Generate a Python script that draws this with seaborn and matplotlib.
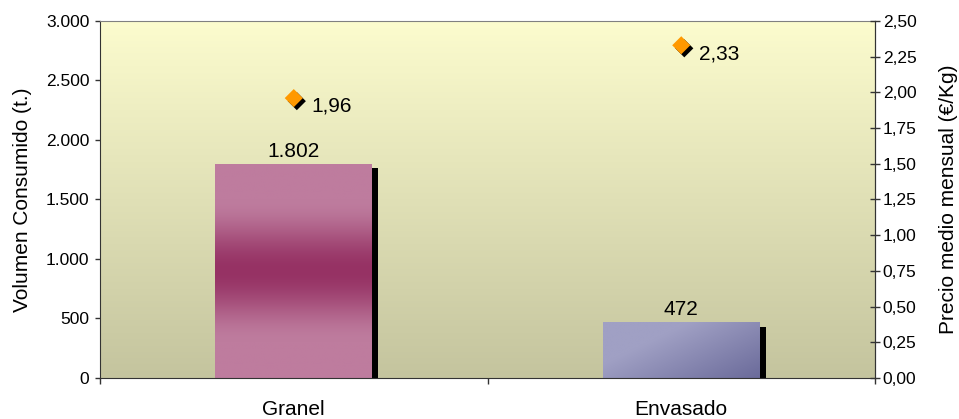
import matplotlib
matplotlib.use("Agg")
import matplotlib.pyplot as plt
import matplotlib.patheffects as pe
from matplotlib.ticker import FuncFormatter
import numpy as np
import pandas as pd
import seaborn as sns

# datos
categorias = ["Granel", "Envasado"]
volumen = [1802, 472]
precio = [1.96, 2.33]
vol_ticks = [0, 500, 1000, 1500, 2000, 2500, 3000]
precio_ticks = [0.0, 0.25, 0.5, 0.75, 1.0, 1.25, 1.5, 1.75, 2.0, 2.25, 2.5]

sns.set_style("ticks")
plt.rcParams["font.family"] = ["Liberation Sans", "DejaVu Sans"]
plt.rcParams.update({"text.color": "black", "axes.labelcolor": "black",
                     "xtick.color": "black", "ytick.color": "black"})

df = pd.DataFrame({"categoria": categorias, "pos": np.arange(len(categorias)),
                   "volumen": volumen, "precio": precio})

fig = plt.figure(figsize=(9.59, 4.19), dpi=100)
ax = fig.add_axes([0.1043, 0.0979, 0.8081, 0.852])

# fondo degradado amarillo
t = np.linspace(0, 1, 256)[:, None, None]
arriba = np.array([252, 252, 206]) / 255
abajo = np.array([196, 196, 158]) / 255
ax.imshow(arriba + (abajo - arriba) * t, extent=(0, 1, 0, 1), transform=ax.transAxes,
          aspect="auto", zorder=0, origin="upper")

sns.barplot(data=df, x="categoria", y="volumen", ax=ax, width=0.405,
            color="#bb7a9e", saturation=1, zorder=2, edgecolor="none", linewidth=0)

sombra = [pe.SimplePatchShadow(offset=(4.5, -3.5), shadow_rgbFace="black", alpha=1), pe.Normal()]


def grad_granel():
    y = np.linspace(0, 1, 200)[:, None, None]
    f = np.clip(1 - np.abs(2 * y - 1) * 1.5, 0, 1)
    f = f * f * (3 - 2 * f)
    claro = np.array([190, 124, 158]) / 255
    oscuro = np.array([150, 50, 100]) / 255
    return np.repeat(claro + (oscuro - claro) * f, 2, axis=1)


def grad_envasado():
    yy, xx = np.mgrid[0:1:100j, 0:1:200j]
    f = np.clip(0.8 * xx + 0.6 * yy - 0.45, 0, 1)
    claro = np.array([160, 160, 196]) / 255
    oscuro = np.array([104, 104, 152]) / 255
    return claro + (oscuro - claro) * f[..., None]


gradientes = [grad_granel(), grad_envasado()]
for p, g in zip(ax.patches, gradientes):
    p.set_path_effects(sombra)
    x0, w, h = p.get_x(), p.get_width(), p.get_height()
    im = ax.imshow(g, extent=(x0, x0 + w, 0, h), aspect="auto", zorder=2.5, origin="upper")
    im.set_clip_path(p)

ax.bar_label(ax.containers[0], labels=[f"{v:,}".replace(",", ".") for v in volumen],
             padding=2, fontsize=15)

ax.set_xlim(-0.5, 1.5)
ax.set_ylim(0, 3000)
ax.set_yticks(vol_ticks)
ax.yaxis.set_major_formatter(FuncFormatter(lambda v, _: f"{int(v):,}".replace(",", ".")))
ax.tick_params(axis="y", direction="out", length=3.6, width=1, labelsize=12.5, pad=4, color="#333333")
ax.set_xticks([-0.5, 0.5, 1.5])
ax.set_xticklabels(["", "", ""])
ax.set_xticks([0, 1], minor=True)
ax.set_xticklabels(categorias, minor=True, fontsize=15)
ax.tick_params(axis="x", which="major", direction="out", length=4.5, width=1, color="#333333")
ax.tick_params(axis="x", which="minor", length=0, pad=16)
ax.set_xlabel("")
ax.set_ylabel("Volumen Consumido (t.)", fontsize=15, labelpad=10)
for lado in ["left", "bottom", "right"]:
    ax.spines[lado].set_color("#333333")
ax.spines["top"].set_color("#808080")

# eje derecho: precio medio
ax2 = ax.twinx()
sns.scatterplot(data=df, x="pos", y="precio", ax=ax2, marker="D", s=85,
                color="#ff9900", edgecolor="none", zorder=3, legend=False)
ax2.collections[0].set_path_effects([pe.SimplePatchShadow(offset=(2.2, -2.2), shadow_rgbFace="black", alpha=1),
                                     pe.Normal()])
for xi, yi in zip(df["pos"], precio):
    ax2.annotate(f"{yi:.2f}".replace(".", ","), (xi, yi), xytext=(13, -6),
                 textcoords="offset points", ha="left", va="center", fontsize=15)
ax2.set_xlim(-0.5, 1.5)
ax2.set_ylim(0, 2.5)
ax2.set_yticks(precio_ticks)
ax2.yaxis.set_major_formatter(FuncFormatter(lambda v, _: f"{v:.2f}".replace(".", ",")))
ax2.tick_params(axis="y", direction="inout", length=7, width=1, labelsize=12.5, pad=2, color="#333333")
ax2.set_xlabel("")
ax2.set_ylabel("Precio medio mensual (€/Kg)", fontsize=15, labelpad=16)
for lado in ["left", "bottom", "top"]:
    ax2.spines[lado].set_visible(False)
ax2.spines["right"].set_color("#333333")

fig.savefig("out.png", dpi=100)
